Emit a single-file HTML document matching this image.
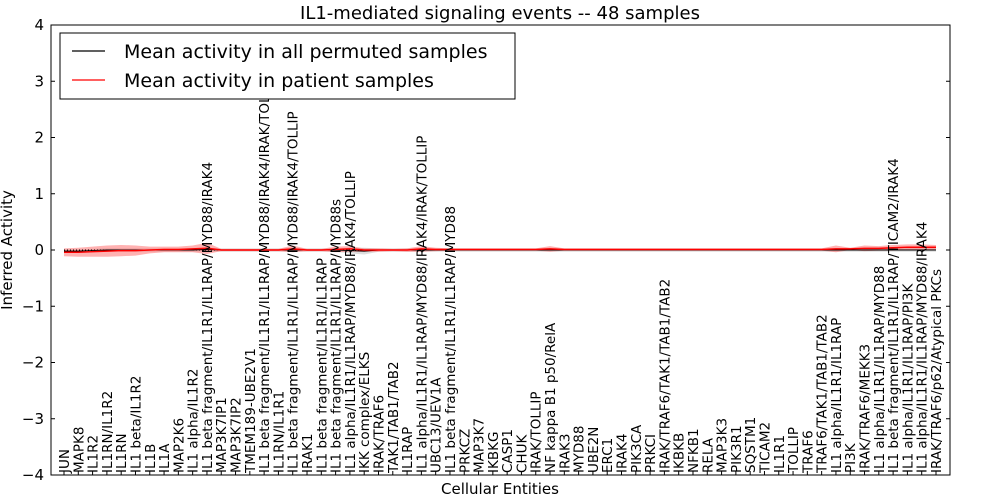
<!DOCTYPE html>
<html><head><meta charset="utf-8"><style>
body{margin:0;background:#fff;}
svg{display:block;font-family:"DejaVu Sans","Liberation Sans",sans-serif;}
</style></head><body>
<svg id="c" width="1000" height="500"></svg>
<script>
const entities=["JUN","MAPK8","IL1R2","IL1RN/IL1R2","IL1RN","IL1 beta/IL1R2","IL1B","IL1A","MAP2K6","IL1 alpha/IL1R2","IL1 beta fragment/IL1R1/IL1RAP/MYD88/IRAK4","MAP3K7IP1","MAP3K7IP2","TMEM189-UBE2V1","IL1 beta fragment/IL1R1/IL1RAP/MYD88/IRAK4/IRAK/TOLLIP","IL1RN/IL1R1","IL1 beta fragment/IL1R1/IL1RAP/MYD88/IRAK4/TOLLIP","IRAK1","IL1 beta fragment/IL1R1/IL1RAP","IL1 beta fragment/IL1R1/IL1RAP/MYD88s","IL1 alpha/IL1R1/IL1RAP/MYD88/IRAK4/TOLLIP","IKK complex/ELKS","IRAK/TRAF6","TAK1/TAB1/TAB2","IL1RAP","IL1 alpha/IL1R1/IL1RAP/MYD88/IRAK4/IRAK/TOLLIP","UBC13/UEV1A","IL1 beta fragment/IL1R1/IL1RAP/MYD88","PRKCZ","MAP3K7","IKBKG","CASP1","CHUK","IRAK/TOLLIP","NF kappa B1 p50/RelA","IRAK3","MYD88","UBE2N","ERC1","IRAK4","PIK3CA","PRKCI","IRAK/TRAF6/TAK1/TAB1/TAB2","IKBKB","NFKB1","RELA","MAP3K3","PIK3R1","SQSTM1","TICAM2","IL1R1","TOLLIP","TRAF6","TRAF6/TAK1/TAB1/TAB2","IL1 alpha/IL1R1/IL1RAP","PI3K","IRAK/TRAF6/MEKK3","IL1 alpha/IL1R1/IL1RAP/MYD88","IL1 beta fragment/IL1R1/IL1RAP/TICAM2/IRAK4","IL1 alpha/IL1R1/IL1RAP/PI3K","IL1 alpha/IL1R1/IL1RAP/MYD88/IRAK4","IRAK/TRAF6/p62/Atypical PKCs"];
const patientMean=[-0.04,-0.04,-0.03,-0.02,-0.01,-0.01,0,0.01,0.01,0.02,0.03,0,0,0,0,0,0.02,0,0,0.01,0.02,0,0,0,0,0.02,0.01,0.01,0.01,0.01,0.01,0.01,0.01,0.01,0.02,0.01,0.01,0.01,0.01,0.01,0.01,0.01,0.01,0.01,0.01,0.01,0.01,0.01,0.01,0.01,0.01,0.01,0.01,0.01,0.02,0.02,0.03,0.03,0.04,0.05,0.05,0.05];
const patientSpread=[0.07,0.08,0.09,0.1,0.1,0.09,0.06,0.05,0.05,0.06,0.1,0.02,0.02,0.02,0.02,0.02,0.06,0.02,0.02,0.05,0.05,0.03,0.03,0.02,0.03,0.05,0.03,0.02,0.02,0.02,0.02,0.02,0.02,0.02,0.05,0.02,0.02,0.02,0.02,0.02,0.02,0.02,0.02,0.02,0.02,0.02,0.02,0.02,0.02,0.02,0.02,0.02,0.02,0.02,0.06,0.02,0.05,0.04,0.05,0.05,0.05,0.04];
const permMean=[-0.02,-0.02,-0.01,0,0,0,0,0,0,0,0.01,0,0,0,0,0,0,0,0,0,-0.01,-0.02,0,0,0,0,0,0,0,0,0,0,0,0,0,0,0,0,0,0,0,0,0,0,0,0,0,0,0,0,0,0,0,0,0,0,0,0,0,0,0,0];
const permSpread=[0.03,0.03,0.03,0.03,0.03,0.03,0.03,0.03,0.03,0.03,0.03,0.03,0.03,0.03,0.03,0.03,0.03,0.03,0.03,0.03,0.05,0.06,0.03,0.03,0.03,0.03,0.03,0.03,0.03,0.03,0.03,0.03,0.03,0.03,0.03,0.03,0.03,0.03,0.03,0.03,0.03,0.03,0.03,0.03,0.03,0.03,0.03,0.03,0.03,0.03,0.03,0.03,0.03,0.03,0.03,0.03,0.03,0.03,0.03,0.03,0.03,0.03];
const yTicks=[-4,-3,-2,-1,0,1,2,3,4];
const tickText=["\u22124","\u22123","\u22122","\u22121","0","1","2","3","4"];

const svg=document.getElementById('c');
const NS="http://www.w3.org/2000/svg";
const L=51,R=950,T=25,B=475;
const x0=64,x1=936;
const xs=i=>x0+i*(x1-x0)/(entities.length-1);
const ys=v=>T+(4-v)*(B-T)/8;
function mk(tag,attrs,parent){const e=document.createElementNS(NS,tag);for(const k in attrs)e.setAttribute(k,attrs[k]);(parent||svg).appendChild(e);return e;}
function band(mean,spr){let up=mean.map((m,i)=>xs(i)+","+ys(m+spr[i]));let dn=mean.map((m,i)=>xs(i)+","+ys(m-spr[i])).reverse();return up.concat(dn).join(" ");}
function line(mean){return mean.map((m,i)=>xs(i)+","+ys(m)).join(" ");}

let e;
e=mk('polygon',{points:band(permMean,permSpread),fill:'#bbb','fill-opacity':0.5});


e=mk('polygon',{points:band(patientMean,patientSpread),fill:'#f55','fill-opacity':0.45});


e=mk('line',{x1:x0,x2:x1,y1:ys(0),y2:ys(0),stroke:'#000','stroke-dasharray':'1,2','stroke-width':1});


e=mk('polyline',{points:line(permMean),fill:'none',stroke:'#000','stroke-width':1});


e=mk('polyline',{points:line(patientMean),fill:'none',stroke:'#f00','stroke-width':1.5});



e=mk('rect',{x:L,y:T,width:R-L,height:B-T,fill:'none',stroke:'#000','stroke-width':1});



yTicks.forEach((v,i)=>{
  const y=ys(v);
  let t=mk('line',{x1:L,x2:L+4,y1:y,y2:y,stroke:'#000'});
  
  
  t=mk('line',{x1:R-4,x2:R,y1:y,y2:y,stroke:'#000'});
  
  
  t=mk('text',{x:L-7,y:y+5,'text-anchor':'end','font-size':15});
  t.textContent=tickText[i];
  
  
});

entities.forEach((n,i)=>{
  const x=xs(i);
  let t=mk('line',{x1:x,x2:x,y1:B,y2:B-4,stroke:'#000'});
  
  
  t=mk('text',{x:0,y:0,'font-size':13.5,transform:`translate(${x+5},${B-2}) rotate(-90)`});
  t.textContent=n;
  
  
});

e=mk('text',{x:500,y:19,'text-anchor':'middle','font-size':18});
e.textContent="IL1-mediated signaling events -- 48 samples";


e=mk('text',{x:500,y:494,'text-anchor':'middle','font-size':15});
e.textContent="Cellular Entities";


e=mk('text',{x:0,y:0,'text-anchor':'middle','font-size':15,transform:'translate(12,250) rotate(-90)'});
e.textContent="Inferred Activity";



const lg=mk('g',{});


mk('rect',{x:60,y:33,width:455,height:66,fill:'#fff',stroke:'#000'},lg);
mk('line',{x1:72,x2:105,y1:51,y2:51,stroke:'#000','stroke-width':1.2},lg);
e=mk('text',{x:124,y:58,'font-size':19},lg);
e.textContent="Mean activity in all permuted samples";


mk('line',{x1:72,x2:105,y1:80,y2:80,stroke:'#f00','stroke-width':1.2},lg);
e=mk('text',{x:124,y:87,'font-size':19},lg);
e.textContent="Mean activity in patient samples";


</script>
</body></html>
